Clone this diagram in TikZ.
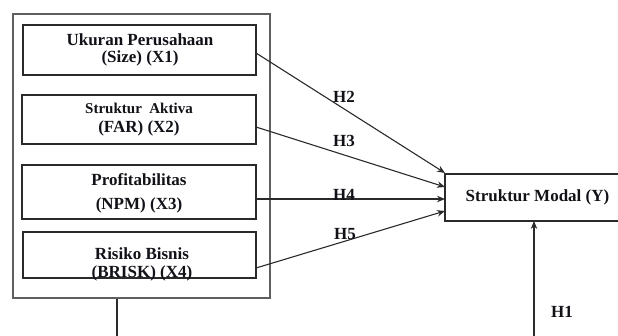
\documentclass[tikz,border=0pt]{standalone}
\usepackage{fontspec}
\setmainfont{Liberation Serif}
\usetikzlibrary{arrows.meta}
\definecolor{txt}{HTML}{111118}
\definecolor{ln}{HTML}{2A2A2A}
\tikzset{
  box/.style={draw=ln, line width=1.1pt, inner sep=0pt},
  lbl/.style={font=\bfseries\fontsize{17}{17}\selectfont, text=txt, anchor=base, inner sep=0pt},
  lbls/.style={font=\bfseries\fontsize{15}{15}\selectfont, text=txt, anchor=base, inner sep=0pt},
  arr/.style={draw=ln, line width=1.1pt, -{Stealth[length=8pt,width=6.5pt]}},
  conn/.style={draw=ln, line width=1.1pt}
}
\begin{document}
\begin{tikzpicture}[x=1pt,y=-1pt]
\useasboundingbox (0,0) rectangle (618,336);
% outer box
\node[box, draw=ln!75, line width=1.3pt, minimum width=257pt, minimum height=284pt] (outer) at (141.5,156) {};
% inner boxes
\node[box, minimum width=233pt, minimum height=50pt] (b1) at (139.5,50) {};
\node[box, minimum width=234pt, minimum height=49pt] (b2) at (139,119.5) {};
\node[box, minimum width=234pt, minimum height=54pt] (b3) at (139,192) {};
\node[box, minimum width=233pt, minimum height=46pt] (b4) at (139.5,255) {};
% texts
\node[lbl] (t1a) at (140,45.5) {Ukuran Perusahaan};
\node[lbl] (t1b) at (140,62.5) {(Size) (X1)};
\node[lbls] (t2a) at (139,114) {Struktur\ \ Aktiva};
\node[lbl] (t2b) at (139,133) {(FAR) (X2)};
\node[lbl] (t3a) at (139,186) {Profitabilitas};
\node[lbl] (t3b) at (139,210) {(NPM) (X3)};
\node[lbl] (t4a) at (142,260) {Risiko Bisnis};
\node[lbl] (t4b) at (142,278) {(BRISK) (X4)};
% dependent box
\node[box, minimum width=176pt, minimum height=47pt] (Y) at (533,197.5) {};
\node[lbl] (ty) at (537.5,202) {Struktur Modal (Y)};
% arrow endpoints
\coordinate (s1) at (256,53);
\coordinate (s2) at (256,127);
\coordinate (s3) at (256,199);
\coordinate (s4) at (256,268);
\coordinate (e1) at (445,173);
\coordinate (e2) at (445,187);
\coordinate (e3) at (445,199);
\coordinate (e4) at (445,211);
\draw[arr] (s1) -- (e1);
\draw[arr] (s2) -- (e2);
\draw[arr] (s3) -- (e3);
\draw[arr] (s4) -- (e4);
% labels
\node[lbl] (h2) at (344,103) {H2};
\node[lbl] (h3) at (344,147) {H3};
\node[lbl] (h4) at (344,201) {H4};
\node[lbl] (h5) at (345,240) {H5};
\node[lbl] (h1) at (562,318) {H1};
% bottom lines
\coordinate (bo) at (117,336);
\coordinate (bh) at (534,336);
\coordinate (yb) at (534,221);
\draw[conn] (outer.south -| bo) -- (bo);
\draw[arr] (bh) -- (yb);
\end{tikzpicture}
\end{document}
